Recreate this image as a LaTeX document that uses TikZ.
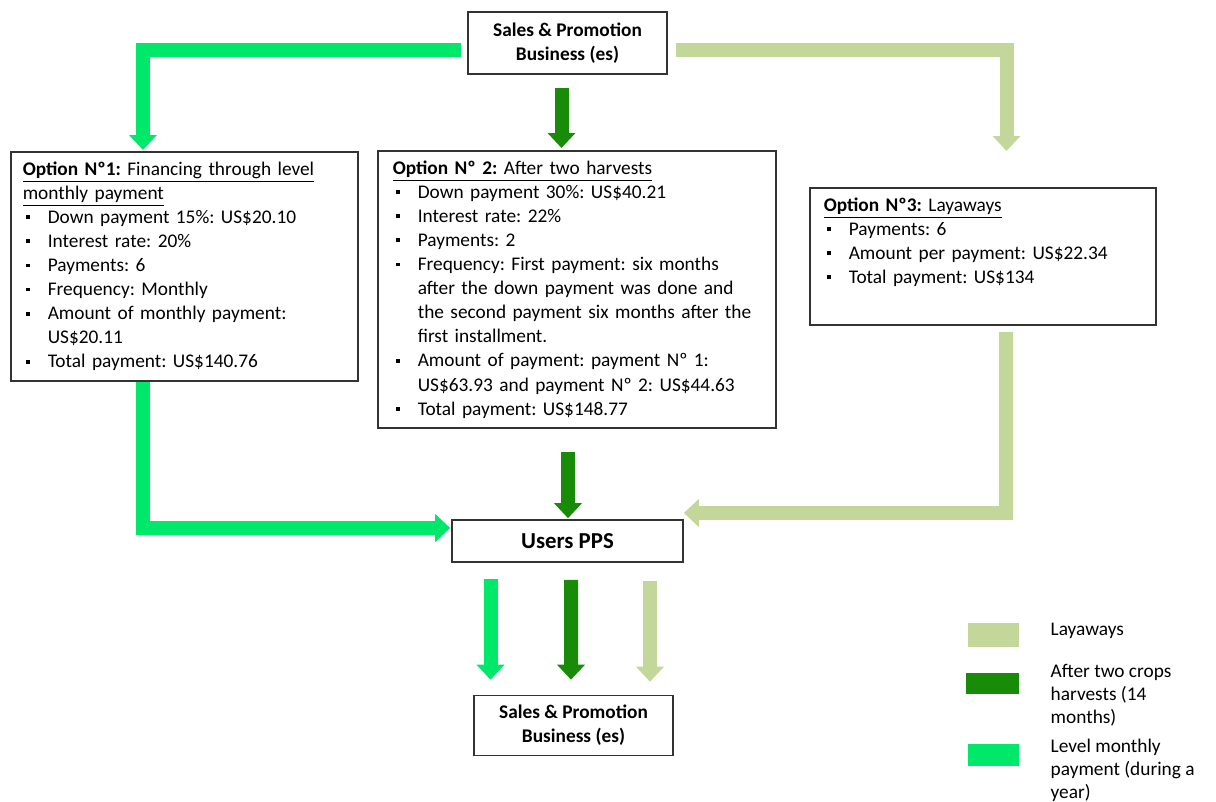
\documentclass[tikz,border=0pt]{standalone}
\usepackage{fontspec}
\setmainfont{Carlito}
\usetikzlibrary{arrows.meta,positioning,calc}
\frenchspacing

\definecolor{levelgreen}{RGB}{0,232,106}
\definecolor{harvestgreen}{RGB}{24,140,8}
\definecolor{layawaygreen}{RGB}{196,215,155}

\newcommand{\bul}{\makebox[0.5cm][l]{\hspace{0.06cm}\rule[0.22em]{2.2pt}{2.2pt}}}
\newcommand{\cont}{\hspace*{0.5cm}}

\begin{document}
\begin{tikzpicture}[x=0.02cm, y=-0.02cm,
                    font=\fontsize{11}{13.7}\selectfont,
                    line join=miter,
                    ]
    \tikzstyle{box}=[draw=black!80, line width=0.9pt, fill=white, align=center]
    \tikzstyle{optbox}=[box, align=left, inner ysep=0.2cm, anchor=north west]
    \tikzstyle{flow}=[line width=0.28cm, -{Triangle[width=0.54cm,length=0.3cm]}]
    \tikzstyle{levelflow}=[flow, draw=levelgreen]
    \tikzstyle{harvestflow}=[flow, draw=harvestgreen]
    \tikzstyle{layawayflow}=[flow, draw=layawaygreen]
    \tikzstyle{legtext}=[inner sep=0pt, align=left, font=\fontsize{11}{13.1}\selectfont]

    \useasboundingbox (0,0) rectangle (1216,801);

    % boxes
    \node[box, minimum width=3.98cm, minimum height=1.24cm] (salestop) at (567.5,43)
        {\textbf{Sales \& Promotion}\\ \textbf{Business (es)}};

    \node[optbox, text width=6.46cm, inner xsep=0.24cm] (opt1) at (10,151) {%
        \underline{\textbf{Option Nº1:} Financing through level}\\
        \underline{monthly payment}\\
        \bul Down payment 15\%: US\$20.10\\
        \bul Interest rate: 20\%\\
        \bul Payments: 6\\
        \bul Frequency: Monthly\\
        \bul Amount of monthly payment:\\
        \cont US\$20.11\\
        \bul Total payment: US\$140.76};

    \node[optbox, text width=7.36cm, inner xsep=0.3cm] (opt2) at (377,150) {%
        \underline{\textbf{Option Nº 2:} After two harvests}\\
        \bul Down payment 30\%: US\$40.21\\
        \bul Interest rate: 22\%\\
        \bul Payments: 2\\
        \bul Frequency: First payment: six months\\
        \cont after the down payment was done and\\
        \cont the second payment six months after the\\
        \cont first installment.\\
        \bul Amount of payment: payment Nº 1:\\
        \cont US\$63.93 and payment Nº 2: US\$44.63\\
        \bul Total payment: US\$148.77};

    \node[optbox, text width=6.36cm, inner xsep=0.28cm] (opt3) at (809,187) {%
        \underline{\textbf{Option Nº3:} Layaways}\\
        \bul Payments: 6\\
        \bul Amount per payment: US\$22.34\\
        \bul Total payment: US\$134\\
        \strut};

    \node[box, minimum width=4.62cm, minimum height=0.84cm, font=\fontsize{13}{15}\selectfont\bfseries] (users) at (567.5,541)
        {Users PPS};

    \node[box, minimum width=3.98cm, minimum height=1.2cm] (salesbot) at (573.5,725.5)
        {\textbf{Sales \& Promotion}\\ \textbf{Business (es)}};

    % flows from the business to the options
    \draw[levelflow] ($(salestop.west)+(-6,7)$) -| ($(opt1.north west)+(133,-1)$);
    \draw[harvestflow] ($(salestop.south)+(-6,13)$) -- ($(salestop.south |- opt2.north)+(-6,-2)$);
    \draw[layawayflow] ($(salestop.east)+(8,7)$) -| ($(opt3.north east)+(-150,-36)$);

    % flows from the options to the users
    \draw[levelflow] ($(opt1.south west)+(133,0)$) |- ($(users.west)+(-1,-13)$);
    \draw[harvestflow] ($(users.north |- opt2.south)+(0.5,23)$) -- ($(users.north)+(0.5,-1)$);
    \draw[layawayflow] ($(opt3.south east)+(-151,6)$) |- ($(users.east)+(0,-28)$);

    % flows from the users back to the business
    \draw[levelflow] ($(users.south)+(-77,16)$) -- ($(salesbot.north)+(-83,-15)$);
    \draw[harvestflow] ($(users.south)+(3.5,17)$) -- ($(salesbot.north)+(-2.5,-15)$);
    \draw[layawayflow] ($(users.south)+(82.5,18)$) -- ($(salesbot.north)+(76.5,-13)$);

    % legend
    \node[fill=layawaygreen, minimum width=1.02cm, minimum height=0.48cm, inner sep=0pt] (keylayaway) at (993.5,635) {};
    \node[fill=harvestgreen, minimum width=1.06cm, minimum height=0.42cm, inner sep=0pt] (keyharvest) at (992.5,683.5) {};
    \node[fill=levelgreen, minimum width=1.02cm, minimum height=0.44cm, inner sep=0pt] (keylevel) at (993.5,755) {};

    \node[legtext, right=0.62cm of keylayaway, yshift=0.08cm] (txtlayaway) {Layaways};
    \node[legtext, right=0.62cm of keyharvest, yshift=-0.23cm] (txtharvest) {After two crops\\ harvests (14\\ months)};
    \node[legtext, right=0.62cm of keylevel, yshift=-0.3cm] (txtlevel) {Level monthly\\ payment (during a\\ year)};
\end{tikzpicture}
\end{document}
